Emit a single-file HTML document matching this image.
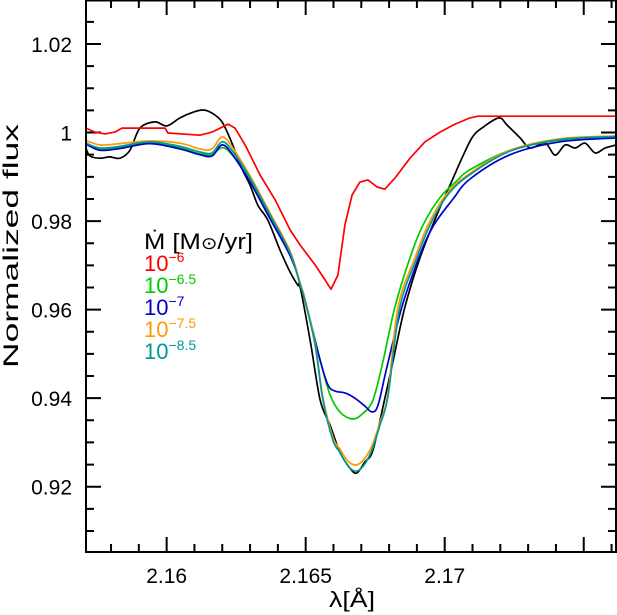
<!DOCTYPE html>
<html><head><meta charset="utf-8">
<style>
html,body{margin:0;padding:0;background:#fff;}
svg{display:block;font-family:"Liberation Sans","DejaVu Sans",sans-serif;}
</style></head>
<body>
<svg id="chart" width="617" height="615" viewBox="0 0 617 615" xmlns="http://www.w3.org/2000/svg">
  <g id="grid-ticks"></g>
  <g id="series"></g>
  <rect x="86" y="0.5" width="530" height="551.5" fill="none" stroke="#000" stroke-width="2"/>
  <g id="labels" font-size="21" fill="#000"></g>
  <text x="352" y="607" font-size="22" text-anchor="middle" textLength="46" lengthAdjust="spacingAndGlyphs">λ[Å]</text>
  <text x="18" y="246" font-size="21" text-anchor="middle" textLength="244" lengthAdjust="spacingAndGlyphs" transform="rotate(-90 18 246)">Normalized flux</text>
  <g font-size="22">
    <text x="144" y="249" textLength="109" lengthAdjust="spacingAndGlyphs">Ṁ [M<tspan font-size="17">⊙</tspan>/yr]</text>
    <text x="144" y="271" fill="#ff0000">10<tspan font-size="14" dy="-9">−6</tspan></text>
    <text x="144" y="293" fill="#00cc00">10<tspan font-size="14" dy="-9">−6.5</tspan></text>
    <text x="144" y="315" fill="#0000cc">10<tspan font-size="14" dy="-9">−7</tspan></text>
    <text x="144" y="337" fill="#ff9900">10<tspan font-size="14" dy="-9">−7.5</tspan></text>
    <text x="144" y="359" fill="#009999">10<tspan font-size="14" dy="-9">−8.5</tspan></text>
  </g>
</svg>
<script>
const xTickLabels = ["2.16","2.165","2.17"];
const xTickValues = [2.16,2.165,2.17];
const yTickLabels = ["0.92","0.94","0.96","0.98","1","1.02"];
const yTickValues = [0.92,0.94,0.96,0.98,1.0,1.02];

const observed = [[2.15710,.9965],[2.15724,.9947],[2.15760,.9942],[2.15796,.9945],[2.15832,.9942],[2.15868,.9960],[2.15904,1.0010],[2.15958,1.0024],[2.16001,1.0015],[2.16048,1.0033],[2.16095,1.0046],[2.16131,1.0051],[2.16163,1.0044],[2.16199,1.0024],[2.16235,.9976],[2.16264,.9927],[2.16300,.9881],[2.16328,.9836],[2.16364,.9802],[2.16408,.9734],[2.16444,.9685],[2.16472,.9655],[2.16480,.9651],[2.16516,.9531],[2.16552,.9396],[2.16588,.9339],[2.16623,.9278],[2.16659,.9242],[2.16684,.9231],[2.16713,.9256],[2.16742,.9283],[2.16785,.9400],[2.16815,.9486],[2.16857,.9606],[2.16911,.9717],[2.16972,.9814],[2.17019,.9881],[2.17062,.9942],[2.17100,.9990],[2.17138,1.0012],[2.17195,1.0033],[2.17224,1.0017],[2.17271,.9988],[2.17307,.9965],[2.17361,.9976],[2.17397,.9949],[2.17433,.9972],[2.17469,.9965],[2.17505,.9976],[2.17541,.9954],[2.17577,.9965],[2.17616,.9972]];
const mdot6 = [[2.15710,1.0010],[2.15742,1.0001],[2.15778,.9997],[2.15814,1.0001],[2.15839,1.0010],[2.15994,1.0010],[2.16005,.9999],[2.16120,.9994],[2.16163,1.0001],[2.16199,1.0012],[2.16221,1.0019],[2.16246,1.0010],[2.16282,.9972],[2.16336,.9904],[2.16390,.9848],[2.16444,.9780],[2.16480,.9746],[2.16534,.9701],[2.16570,.9667],[2.16591,.9646],[2.16616,.9678],[2.16641,.9791],[2.16667,.9859],[2.16695,.9888],[2.16724,.9893],[2.16757,.9877],[2.16785,.9872],[2.16821,.9897],[2.16875,.9942],[2.16929,.9979],[2.16983,1.0001],[2.17037,1.0019],[2.17091,1.0033],[2.17120,1.0037],[2.17616,1.0037]];
const mdot65 = [[2.15710,.9976],[2.15760,.9963],[2.15832,.9966],[2.15940,.9977],[2.16048,.9965],[2.16120,.9952],[2.16163,.9950],[2.16199,.9966],[2.16235,.9950],[2.16300,.9890],[2.16372,.9808],[2.16444,.9725],[2.16480,.9660],[2.16516,.9576],[2.16552,.9486],[2.16588,.9407],[2.16623,.9369],[2.16667,.9353],[2.16703,.9364],[2.16742,.9396],[2.16779,.9486],[2.16821,.9606],[2.16875,.9717],[2.16922,.9791],[2.16983,.9853],[2.17044,.9891],[2.17091,.9916],[2.17235,.9960],[2.17415,.9983],[2.17616,.9992]];
const mdot7 = [[2.15710,.9974],[2.15760,.9960],[2.15832,.9964],[2.15940,.9975],[2.16048,.9963],[2.16120,.9950],[2.16163,.9947],[2.16199,.9972],[2.16235,.9952],[2.16300,.9888],[2.16372,.9805],[2.16444,.9722],[2.16480,.9660],[2.16516,.9576],[2.16552,.9486],[2.16580,.9430],[2.16606,.9416],[2.16641,.9412],[2.16677,.9400],[2.16713,.9382],[2.16738,.9369],[2.16760,.9384],[2.16792,.9470],[2.16846,.9606],[2.16907,.9717],[2.16958,.9788],[2.17030,.9850],[2.17091,.9895],[2.17235,.9950],[2.17415,.9979],[2.17616,.9988]];
const mdot75 = [[2.15710,.9982],[2.15760,.9972],[2.15832,.9975],[2.15940,.9981],[2.16048,.9976],[2.16120,.9963],[2.16163,.9963],[2.16199,.9990],[2.16235,.9968],[2.16300,.9902],[2.16372,.9818],[2.16444,.9732],[2.16480,.9660],[2.16497,.9626],[2.16534,.9525],[2.16562,.9402],[2.16598,.9312],[2.16623,.9285],[2.16652,.9258],[2.16681,.9249],[2.16710,.9262],[2.16738,.9292],[2.16767,.9345],[2.16796,.9410],[2.16832,.9606],[2.16893,.9717],[2.16940,.9791],[2.17005,.9860],[2.17091,.9908],[2.17235,.9960],[2.17415,.9986],[2.17616,.9992]];
const mdot85 = [[2.15710,.9976],[2.15760,.9965],[2.15832,.9969],[2.15940,.9979],[2.16048,.9969],[2.16120,.9956],[2.16163,.9954],[2.16199,.9979],[2.16235,.9960],[2.16300,.9897],[2.16372,.9814],[2.16444,.9728],[2.16480,.9656],[2.16497,.9622],[2.16534,.9520],[2.16562,.9396],[2.16598,.9305],[2.16623,.9278],[2.16652,.9247],[2.16681,.9235],[2.16710,.9249],[2.16738,.9283],[2.16767,.9339],[2.16796,.9405],[2.16839,.9606],[2.16900,.9717],[2.16947,.9791],[2.17012,.9860],[2.17091,.9905],[2.17235,.9958],[2.17415,.9984],[2.17616,.9991]];

const X0=86, X1=616, Y0=552, Y1=0;
const xMin=2.15710, xMax=2.17616, yMin=0.90525, yMax=1.02994;
function sx(v){return X0+(v-xMin)/(xMax-xMin)*(X1-X0);}
function sy(v){return Y0-(v-yMin)/(yMax-yMin)*(Y0-Y1);}
const NS="http://www.w3.org/2000/svg";
function mk(tag,attrs,parent){const e=document.createElementNS(NS,tag);for(const k in attrs)e.setAttribute(k,attrs[k]);parent.appendChild(e);return e;}
function smoothPath(P){
  let d=`M${P[0][0].toFixed(1)},${P[0][1].toFixed(1)}`;
  for(let i=0;i<P.length-1;i++){
    const p0=P[Math.max(0,i-1)],p1=P[i],p2=P[i+1],p3=P[Math.min(P.length-1,i+2)];
    const c1x=p1[0]+(p2[0]-p0[0])/6,c1y=p1[1]+(p2[1]-p0[1])/6;
    const c2x=p2[0]-(p3[0]-p1[0])/6,c2y=p2[1]-(p3[1]-p1[1])/6;
    d+=`C${c1x.toFixed(1)},${c1y.toFixed(1)} ${c2x.toFixed(1)},${c2y.toFixed(1)} ${p2[0].toFixed(1)},${p2[1].toFixed(1)}`;
  }
  return d;
}
function linePath(P){return 'M'+P.map(p=>p[0].toFixed(1)+','+p[1].toFixed(1)).join('L');}

const tg=document.getElementById('grid-ticks');
let d="";
for(let i=0;i<=20;i++){const v=2.157+i*0.001;if(v<xMin||v>xMax+1e-9)continue;const x=sx(v);const maj=Math.abs(v*200-Math.round(v*200))<1e-6;const L=maj?15:8;d+=`M${x},${Y0}v${-L}M${x},${Y1}v${L}`;}
for(let i=0;i<=30;i++){const v=0.905+i*0.005;if(v<yMin||v>yMax)continue;const y=sy(v);const maj=Math.abs(v*50-Math.round(v*50))<1e-6;const L=maj?15:8;d+=`M${X0},${y}h${L}M${X1},${y}h${-L}`;}
const tp=mk('path',{d:d,stroke:'#000','stroke-width':2,fill:'none'},tg);



const lg=document.getElementById('labels');
xTickValues.forEach((v,i)=>{const t=mk('text',{x:sx(v),y:583,'text-anchor':'middle'},lg);t.textContent=xTickLabels[i];

});
yTickValues.forEach((v,i)=>{const t=mk('text',{x:72,y:sy(v)+8,'text-anchor':'end'},lg);t.textContent=yTickLabels[i];

});

const sg=document.getElementById('series');
const seriesList=[[observed,'#000000','observed-spectrum',true],[mdot6,'#ff0000','model-1e-6',false],[mdot65,'#00cc00','model-1e-6.5',true],[mdot7,'#0000cc','model-1e-7',true],[mdot75,'#ff9900','model-1e-7.5',true],[mdot85,'#009999','model-1e-8.5',true]];
seriesList.forEach(s=>{const P=s[0].map(p=>[sx(p[0]),sy(p[1])]);
const pl=mk('path',{d:s[3]?smoothPath(P):linePath(P),fill:'none',stroke:s[1],'stroke-width':1.7,'stroke-linejoin':'round'},sg);

});
</script>
</body></html>
